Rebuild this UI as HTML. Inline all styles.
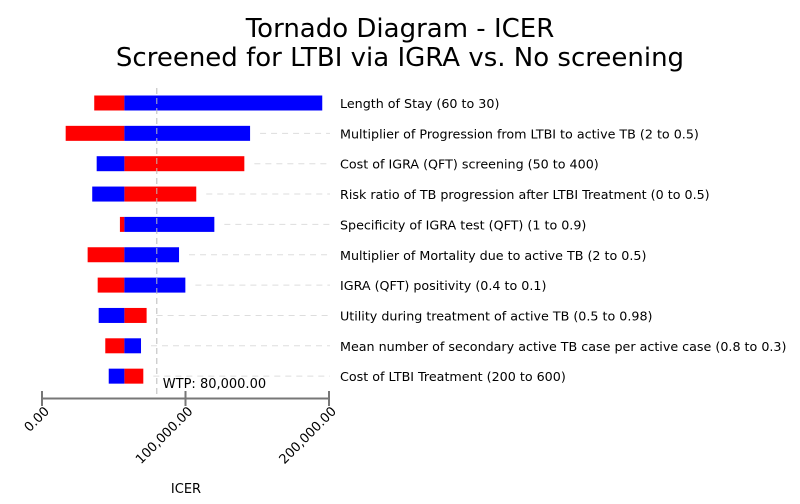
<!DOCTYPE html>
<html><head><meta charset="utf-8"><style>
body{margin:0;background:#fff;font-family:"DejaVu Sans","Liberation Sans",sans-serif;}
svg text{font-family:"DejaVu Sans","Liberation Sans",sans-serif;}
</style></head><body>
<svg id="chart" width="800" height="500" xmlns="http://www.w3.org/2000/svg">
<text x="400" y="37" text-anchor="middle" font-size="26" fill="#000">Tornado Diagram - ICER</text>
<text x="400" y="66" text-anchor="middle" font-size="26" fill="#000">Screened for LTBI via IGRA vs. No screening</text>
<g id="bars"></g>
</svg>
<script>
const categories=["Length of Stay (60 to 30)","Multiplier of Progression from LTBI to active TB (2 to 0.5)","Cost of IGRA (QFT) screening (50 to 400)","Risk ratio of TB progression after LTBI Treatment (0 to 0.5)","Specificity of IGRA test (QFT) (1 to 0.9)","Multiplier of Mortality due to active TB (2 to 0.5)","IGRA (QFT) positivity (0.4 to 0.1)","Utility during treatment of active TB (0.5 to 0.98)","Mean number of secondary active TB case per active case (0.8 to 0.3)","Cost of LTBI Treatment (200 to 600)"];
const lowValues=[36400,16500,141000,107500,54300,31800,38800,72900,44100,70600];
const highValues=[195300,145000,38100,35000,120100,95500,99900,39500,69000,46500];
const baseValue=57400;
const wtp=80000;
const xTicks=[0,100000,200000];
const xTickLabels=["0.00","100,000.00","200,000.00"];
const NS="http://www.w3.org/2000/svg";
const svg=document.getElementById('chart');
const g=document.getElementById('bars');
const x=v=>42+v*143.5/100000;
const y=i=>103+i*30.35;
function mk(t,a,p){const e=document.createElementNS(NS,t);for(const k in a)e.setAttribute(k,a[k]);(p||g).appendChild(e);return e;}
categories.forEach((c,i)=>{
  const lo=lowValues[i],hi=highValues[i];
  const end=Math.max(x(lo),x(hi));
  if(end+10<325){
    const d=mk('line',{x1:end+10,x2:330,y1:y(i),y2:y(i),stroke:'#ddd','stroke-dasharray':'6,5','stroke-width':1});
    
    
  }
  const b=x(baseValue);
  const r=mk('rect',{x:Math.min(x(lo),b),y:y(i)-7.5,width:Math.abs(x(lo)-b),height:15,fill:'#ff0000'});
  
  
  const bl=mk('rect',{x:Math.min(x(hi),b),y:y(i)-7.5,width:Math.abs(x(hi)-b),height:15,fill:'#0000ff'});
  
  
  const t=mk('text',{x:340,y:y(i)+5,'font-size':12.7,fill:'#000'});
  t.textContent=c;
  
  
});
const w=mk('line',{x1:x(wtp),x2:x(wtp),y1:88,y2:398,stroke:'#bbb','stroke-dasharray':'6,4','stroke-width':1});


const wt=mk('text',{x:x(wtp)+6,y:388,'font-size':13,fill:'#000'});
wt.textContent='WTP: 80,000.00';


const ax=mk('line',{x1:x(0),x2:x(200000),y1:398.5,y2:398.5,stroke:'#777','stroke-width':2});


xTicks.forEach((v,i)=>{
  const tk=mk('line',{x1:x(v),x2:x(v),y1:391,y2:406,stroke:'#777','stroke-width':2});
  
  
  const tx=x(v)+8, ty=412;
  const tl=mk('text',{x:tx,y:ty,'font-size':13,fill:'#000','text-anchor':'end',transform:`rotate(-45 ${tx} ${ty})`});
  tl.textContent=xTickLabels[i];
  
  
});
const xt=mk('text',{x:186,y:493,'font-size':13,fill:'#000','text-anchor':'middle'});
xt.textContent='ICER';


</script>
</body></html>
